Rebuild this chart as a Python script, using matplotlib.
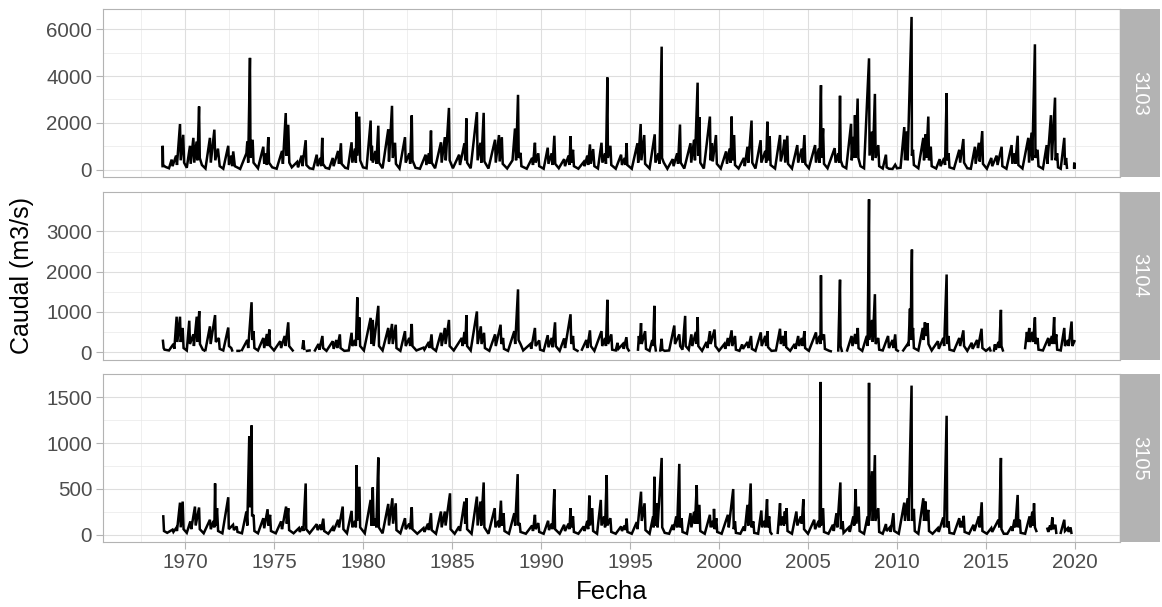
import matplotlib
matplotlib.use("Agg")
import matplotlib.pyplot as plt
import numpy as np

nan = float("nan")

estaciones = ["3103", "3104", "3105"]

# (fecha en años decimales, caudal m3/s)
pts_3103 = [
    (1968.74, 150), (1968.75, 1020), (1968.77, 200), (1968.9, 120), (1969.1, 60), (1969.25, 430),
    (1969.3, 150), (1969.5, 600), (1969.55, 200), (1969.72, 1950), (1969.76, 400), (1969.9, 1490),
    (1969.95, 300), (1970.1, 80), (1970.28, 1020), (1970.32, 250), (1970.47, 1360), (1970.52, 300),
    (1970.65, 1200), (1970.7, 400), (1970.79, 2700), (1970.83, 500), (1970.95, 200), (1971.15, 50),
    (1971.4, 1360), (1971.45, 300), (1971.65, 1710), (1971.7, 400), (1971.85, 900), (1971.95, 150),
    (1972.15, 40), (1972.43, 1020), (1972.47, 200), (1972.6, 600), (1972.65, 150), (1972.71, 780),
    (1972.8, 150), (1973.1, 30), (1973.45, 700), (1973.5, 1200), (1973.55, 300), (1973.65, 4780),
    (1973.68, 500), (1973.8, 1280), (1973.85, 300), (1974.1, 60), (1974.4, 980), (1974.45, 250),
    (1974.55, 700), (1974.6, 200), (1974.68, 1390), (1974.72, 300), (1974.9, 100), (1975.15, 40),
    (1975.45, 800), (1975.5, 250), (1975.66, 2420), (1975.7, 600), (1975.8, 1920), (1975.86, 300),
    (1976.0, 100), (1976.3, 330), (1976.35, 100), (1976.55, 600), (1976.6, 150), (1976.78, 1260),
    (1976.82, 200), (1977.0, 60), (1977.2, 30), (1977.4, 640), (1977.45, 150), (1977.6, 500),
    (1977.65, 150), (1977.71, 1360), (1977.75, 250), (1977.9, 80), (1978.1, 40), (1978.3, 500),
    (1978.35, 150), (1978.6, 800), (1978.65, 250), (1978.76, 1130), (1978.8, 250), (1979.0, 80),
    (1979.15, 50), (1979.36, 1170), (1979.4, 300), (1979.55, 900), (1979.6, 300), (1979.64, 2470),
    (1979.68, 600), (1979.79, 2270), (1979.84, 400), (1980.0, 100), (1980.2, 60), (1980.43, 2100),
    (1980.46, 400), (1980.5, 1020), (1980.55, 300), (1980.7, 800), (1980.75, 250), (1980.86, 1880),
    (1980.9, 300), (1981.1, 60), (1981.42, 1730), (1981.46, 350), (1981.63, 2730), (1981.67, 500),
    (1981.8, 1150), (1981.85, 250), (1982.05, 50), (1982.36, 1390), (1982.4, 300), (1982.6, 700),
    (1982.65, 250), (1982.74, 2320), (1982.78, 400), (1982.95, 80), (1983.2, 40), (1983.52, 640),
    (1983.56, 200), (1983.7, 700), (1983.75, 250), (1983.82, 1670), (1983.86, 300), (1984.05, 60),
    (1984.38, 1170), (1984.42, 300), (1984.6, 1390), (1984.65, 400), (1984.83, 2640), (1984.87, 400),
    (1985.05, 60), (1985.4, 640), (1985.45, 200), (1985.7, 1130), (1985.75, 400), (1985.81, 2190),
    (1985.85, 300), (1986.05, 60), (1986.4, 2460), (1986.44, 400), (1986.6, 1150), (1986.65, 300),
    (1986.78, 2430), (1986.82, 350), (1987.05, 50), (1987.42, 1280), (1987.46, 300), (1987.64, 1480),
    (1987.68, 350), (1987.8, 1390), (1987.85, 250), (1988.1, 50), (1988.4, 400), (1988.54, 1760),
    (1988.6, 400), (1988.71, 3200), (1988.75, 500), (1988.85, 720), (1988.9, 150), (1989.2, 40),
    (1989.5, 500), (1989.55, 200), (1989.66, 1150), (1989.7, 300), (1989.85, 700), (1989.9, 150),
    (1990.15, 40), (1990.38, 940), (1990.42, 250), (1990.6, 700), (1990.65, 200), (1990.75, 1450),
    (1990.8, 250), (1991.0, 60), (1991.3, 450), (1991.35, 150), (1991.55, 600), (1991.6, 200),
    (1991.66, 1430), (1991.7, 300), (1991.8, 850), (1991.85, 150), (1992.1, 40), (1992.4, 330),
    (1992.45, 150), (1992.6, 600), (1992.65, 200), (1992.75, 1080), (1992.8, 250), (1992.93, 880),
    (1993.0, 150), (1993.2, 50), (1993.4, 1150), (1993.45, 300), (1993.6, 700), (1993.65, 250),
    (1993.73, 3940), (1993.76, 500), (1993.9, 1020), (1993.95, 200), (1994.2, 40), (1994.5, 640),
    (1994.55, 200), (1994.7, 500), (1994.75, 200), (1994.81, 1130), (1994.85, 200), (1995.1, 40),
    (1995.42, 1130), (1995.46, 300), (1995.6, 1950), (1995.64, 400), (1995.8, 1480), (1995.85, 250),
    (1996.1, 50), (1996.39, 1510), (1996.43, 300), (1996.6, 700), (1996.65, 250), (1996.78, 5260),
    (1996.8, 500), (1996.9, 300), (1997.1, 40), (1997.4, 450), (1997.45, 150), (1997.65, 700),
    (1997.7, 250), (1997.81, 1930), (1997.85, 300), (1998.05, 50), (1998.4, 1130), (1998.44, 300),
    (1998.6, 1280), (1998.65, 400), (1998.8, 3720), (1998.83, 600), (1998.9, 2250), (1998.95, 300),
    (1999.15, 50), (1999.49, 2270), (1999.53, 400), (1999.6, 1130), (1999.65, 350), (1999.83, 1480),
    (1999.88, 250), (2000.1, 50), (2000.4, 780), (2000.45, 250), (2000.6, 900), (2000.65, 300),
    (2000.71, 2270), (2000.75, 400), (2000.85, 1480), (2000.9, 200), (2001.1, 50), (2001.4, 500),
    (2001.45, 150), (2001.6, 980), (2001.65, 300), (2001.83, 2100), (2001.87, 300), (2002.05, 50),
    (2002.34, 1260), (2002.38, 300), (2002.6, 800), (2002.65, 300), (2002.72, 2050), (2002.76, 400),
    (2002.85, 1430), (2002.9, 200), (2003.15, 50), (2003.43, 1480), (2003.47, 350), (2003.6, 800),
    (2003.68, 1280), (2003.72, 300), (2003.84, 1450), (2003.88, 250), (2004.1, 50), (2004.4, 1050),
    (2004.45, 300), (2004.65, 900), (2004.7, 300), (2004.8, 1480), (2004.85, 250), (2005.05, 60),
    (2005.4, 1050), (2005.45, 300), (2005.6, 900), (2005.65, 300), (2005.73, 3610), (2005.76, 500),
    (2005.85, 1760), (2005.9, 250), (2006.1, 60), (2006.5, 920), (2006.55, 300), (2006.7, 700),
    (2006.75, 300), (2006.8, 3160), (2006.84, 400), (2006.95, 150), (2007.15, 60), (2007.42, 1960),
    (2007.46, 400), (2007.55, 1400), (2007.6, 500), (2007.64, 2330), (2007.68, 500), (2007.79, 3040),
    (2007.83, 500), (2007.95, 150), (2008.15, 60), (2008.43, 4760), (2008.46, 600), (2008.6, 1630),
    (2008.64, 400), (2008.76, 3240), (2008.8, 500), (2008.95, 1050), (2009.0, 150), (2009.2, 50),
    (2009.38, 640), (2009.42, 100), (2009.55, 40), (2009.75, 30), (2009.9, 210), (2010.0, 60),
    (2010.2, 80), (2010.41, 1820), (2010.45, 400), (2010.56, 1640), (2010.6, 400), (2010.82, 6530),
    (2010.84, 600), (2010.9, 850), (2010.95, 200), (2011.2, 60), (2011.48, 1360), (2011.52, 400),
    (2011.61, 1510), (2011.65, 500), (2011.76, 2270), (2011.8, 400), (2011.9, 980), (2011.95, 150),
    (2012.2, 50), (2012.4, 450), (2012.45, 150), (2012.65, 500), (2012.7, 200), (2012.79, 3270),
    (2012.82, 400), (2012.9, 700), (2012.95, 100), (2013.2, 40), (2013.5, 850), (2013.55, 300),
    (2013.73, 1310), (2013.77, 300), (2013.95, 60), (2014.15, 40), (2014.38, 980), (2014.42, 250),
    (2014.6, 1150), (2014.65, 350), (2014.79, 1650), (2014.83, 250), (2015.05, 40), (2015.3, 500),
    (2015.35, 150), (2015.6, 600), (2015.65, 200), (2015.88, 980), (2015.92, 150), (2016.15, 40),
    (2016.44, 1050), (2016.48, 250), (2016.6, 700), (2016.65, 250), (2016.78, 1450), (2016.82, 200),
    (2017.05, 50), (2017.38, 1360), (2017.42, 300), (2017.56, 1580), (2017.6, 400), (2017.75, 5360),
    (2017.78, 500), (2017.9, 850), (2017.95, 150), (2018.2, 40), (2018.41, 1050), (2018.45, 250),
    (2018.65, 2330), (2018.7, 400), (2018.88, 3080), (2018.91, 400), (2019.0, 700), (2019.05, 100),
    (2019.2, 40), (2019.4, 1360), (2019.44, 200), (2019.5, 500), (2019.55, 80), (2019.7, nan),
    (2019.95, 100), (2019.96, 300), (2019.97, 80),
]

pts_3104 = [
    (1968.76, 280), (1968.8, 100), (1968.85, 60), (1969.1, 40), (1969.35, 200), (1969.4, 80),
    (1969.53, 880), (1969.57, 250), (1969.72, 880), (1969.76, 250), (1969.87, 600), (1969.92, 100),
    (1970.1, 40), (1970.24, 780), (1970.28, 200), (1970.47, 440), (1970.5, 150), (1970.66, 880),
    (1970.7, 250), (1970.8, 1020), (1970.84, 200), (1971.0, 60), (1971.08, 40), (1971.1, nan),
    (1971.15, 50), (1971.4, 640), (1971.44, 200), (1971.69, 920), (1971.73, 250), (1971.9, 350),
    (1971.95, 80), (1972.15, 40), (1972.43, 610), (1972.47, 150), (1972.6, 100), (1972.65, 40),
    (1972.8, nan), (1972.95, 30), (1973.05, 30), (1973.1, nan), (1973.2, 50), (1973.5, 300),
    (1973.55, 100), (1973.74, 1240), (1973.78, 300), (1973.85, 520), (1973.9, 100), (1974.1, 40),
    (1974.4, 350), (1974.45, 100), (1974.6, 450), (1974.65, 150), (1974.74, 560), (1974.78, 150),
    (1975.0, 40), (1975.35, 270), (1975.4, 100), (1975.6, 400), (1975.65, 150), (1975.8, 740),
    (1975.85, 150), (1976.05, 40), (1976.3, nan), (1976.6, 100), (1976.65, 290), (1976.7, 80),
    (1976.75, nan), (1976.85, 30), (1977.0, 40), (1977.1, nan), (1977.3, 40), (1977.5, 200),
    (1977.55, 60), (1977.72, 400), (1977.76, 100), (1977.95, 30), (1978.3, 270), (1978.35, 80),
    (1978.5, 300), (1978.55, 100), (1978.7, 440), (1978.74, 100), (1978.95, 30), (1979.2, 40),
    (1979.36, 480), (1979.4, 150), (1979.55, 300), (1979.6, 150), (1979.68, 1360), (1979.72, 300),
    (1979.8, 860), (1979.84, 150), (1980.05, 40), (1980.43, 850), (1980.47, 200), (1980.55, 800),
    (1980.6, 150), (1980.86, 1150), (1980.9, 150), (1981.1, 40), (1981.42, 600), (1981.46, 200),
    (1981.63, 700), (1981.67, 200), (1981.84, 680), (1981.88, 100), (1982.1, 30), (1982.36, 520),
    (1982.4, 150), (1982.6, 350), (1982.65, 150), (1982.74, 700), (1982.78, 150), (1983.0, 40),
    (1983.4, 110), (1983.45, 60), (1983.7, 250), (1983.75, 100), (1983.85, 440), (1983.9, 100),
    (1984.1, 30), (1984.38, 480), (1984.42, 150), (1984.6, 600), (1984.64, 200), (1984.83, 800),
    (1984.87, 150), (1985.1, 40), (1985.55, 350), (1985.6, 150), (1985.7, 500), (1985.75, 200),
    (1985.81, 920), (1985.85, 150), (1986.05, 40), (1986.4, 1010), (1986.44, 200), (1986.62, 640),
    (1986.66, 200), (1986.8, 480), (1986.85, 100), (1987.1, 30), (1987.42, 440), (1987.46, 150),
    (1987.73, 680), (1987.77, 200), (1987.87, 350), (1987.92, 80), (1988.15, 30), (1988.5, 520),
    (1988.55, 200), (1988.71, 1560), (1988.74, 300), (1988.85, 200), (1989.0, 40), (1989.4, 200),
    (1989.45, 80), (1989.66, 600), (1989.7, 150), (1989.9, 290), (1989.95, 60), (1990.15, 30),
    (1990.38, 420), (1990.42, 120), (1990.6, 350), (1990.65, 120), (1990.79, 740), (1990.83, 150),
    (1991.05, 30), (1991.3, 340), (1991.35, 100), (1991.66, 940), (1991.7, 200), (1991.8, 400),
    (1991.85, 80), (1992.05, 30), (1992.15, nan), (1992.3, 60), (1992.55, 300), (1992.6, 100),
    (1992.75, 540), (1992.8, 150), (1993.0, 30), (1993.4, 520), (1993.44, 150), (1993.6, 350),
    (1993.65, 150), (1993.73, 1300), (1993.77, 200), (1993.95, 440), (1994.0, 60), (1994.2, 40),
    (1994.3, 230), (1994.35, 80), (1994.6, 200), (1994.65, 80), (1994.8, 370), (1994.85, 100),
    (1994.93, 40), (1995.2, nan), (1995.45, 60), (1995.5, 400), (1995.55, 200), (1995.62, 720),
    (1995.66, 200), (1995.85, 520), (1995.9, 80), (1996.1, 30), (1996.25, 300), (1996.3, 150),
    (1996.37, 1150), (1996.4, 200), (1996.45, 40), (1996.6, nan), (1996.7, 40), (1996.78, 330),
    (1996.82, 60), (1996.95, 30), (1997.2, 40), (1997.49, 660), (1997.53, 200), (1997.77, 440),
    (1997.82, 150), (1997.95, 60), (1998.1, 900), (1998.13, 150), (1998.3, 60), (1998.45, 440),
    (1998.5, 150), (1998.7, 500), (1998.75, 200), (1998.8, 870), (1998.84, 150), (1999.05, 30),
    (1999.3, 250), (1999.35, 100), (1999.49, 520), (1999.53, 200), (1999.75, 560), (1999.8, 150),
    (2000.0, 30), (2000.3, 200), (2000.35, 80), (2000.5, 350), (2000.55, 150), (2000.71, 540),
    (2000.75, 150), (2000.9, 400), (2000.95, 60), (2001.15, 30), (2001.3, 190), (2001.35, 80),
    (2001.6, 250), (2001.65, 100), (2001.8, 400), (2001.85, 80), (2002.05, 30), (2002.35, 490),
    (2002.4, 150), (2002.6, 400), (2002.65, 150), (2002.72, 520), (2002.76, 120), (2002.95, 30),
    (2003.2, 40), (2003.43, 580), (2003.47, 200), (2003.6, 400), (2003.65, 150), (2003.74, 520),
    (2003.78, 120), (2004.0, 30), (2004.25, 200), (2004.3, 80), (2004.45, 400), (2004.5, 150),
    (2004.65, 350), (2004.7, 150), (2004.8, 520), (2004.84, 100), (2005.05, 30), (2005.45, 490),
    (2005.5, 200), (2005.65, 400), (2005.7, 200), (2005.73, 1910), (2005.76, 300), (2005.9, 440),
    (2005.95, 80), (2006.2, 30), (2006.28, 20), (2006.5, nan), (2006.7, 40), (2006.8, 1800),
    (2006.83, 150), (2006.9, 30), (2007.0, nan), (2007.2, 40), (2007.45, 400), (2007.5, 150),
    (2007.65, 450), (2007.7, 200), (2007.8, 600), (2007.84, 100), (2008.05, 30), (2008.3, 400),
    (2008.35, 150), (2008.43, 3800), (2008.45, 300), (2008.6, 800), (2008.64, 250), (2008.76, 1440),
    (2008.8, 200), (2008.95, 350), (2009.0, 60), (2009.2, 40), (2009.5, 400), (2009.55, 100),
    (2009.75, 300), (2009.8, 100), (2009.9, 440), (2009.95, 60), (2010.05, 30), (2010.2, nan),
    (2010.35, 40), (2010.6, 200), (2010.65, 150), (2010.73, 1080), (2010.76, 300), (2010.84, 2550),
    (2010.86, 300), (2010.9, 600), (2010.95, 100), (2011.2, 40), (2011.45, 600), (2011.5, 300),
    (2011.57, 740), (2011.62, 400), (2011.72, 720), (2011.77, 200), (2011.95, 40), (2012.3, 270),
    (2012.35, 80), (2012.6, 350), (2012.65, 150), (2012.79, 1930), (2012.82, 200), (2012.9, 400),
    (2012.95, 60), (2013.2, 30), (2013.5, 350), (2013.55, 150), (2013.73, 540), (2013.77, 150),
    (2013.95, 30), (2014.2, 230), (2014.25, 80), (2014.5, 300), (2014.55, 100), (2014.75, 580),
    (2014.8, 100), (2015.0, 30), (2015.2, 100), (2015.25, 40), (2015.35, nan), (2015.45, 40),
    (2015.5, 190), (2015.55, 60), (2015.7, 250), (2015.75, 100), (2015.84, 1050), (2015.87, 150),
    (2015.95, 40), (2016.5, nan), (2017.2, 100), (2017.3, 500), (2017.35, 250), (2017.43, 600),
    (2017.47, 250), (2017.6, 500), (2017.65, 250), (2017.75, 860), (2017.79, 200), (2017.9, 350),
    (2017.95, 60), (2018.2, 40), (2018.5, 350), (2018.55, 150), (2018.7, 400), (2018.75, 200),
    (2018.83, 870), (2018.87, 200), (2018.95, 440), (2019.0, 60), (2019.2, 40), (2019.4, 600),
    (2019.44, 150), (2019.6, 300), (2019.65, 150), (2019.81, 760), (2019.85, 150), (2019.97, 270),
]

pts_3105 = [
    (1968.78, 200), (1968.82, 40), (1969.0, 20), (1969.3, 55), (1969.35, 30), (1969.5, 72),
    (1969.55, 40), (1969.72, 350), (1969.76, 80), (1969.87, 362), (1969.92, 60), (1970.1, 20),
    (1970.3, 145), (1970.35, 60), (1970.56, 307), (1970.6, 100), (1970.79, 297), (1970.83, 60),
    (1971.05, 15), (1971.4, 163), (1971.45, 60), (1971.6, 150), (1971.65, 80), (1971.69, 560),
    (1971.73, 100), (1971.8, 290), (1971.86, 40), (1972.1, 15), (1972.43, 409), (1972.46, 60),
    (1972.7, 108), (1972.75, 50), (1972.9, 90), (1972.95, 30), (1973.2, 15), (1973.45, 253),
    (1973.5, 100), (1973.61, 1078), (1973.65, 300), (1973.74, 1194), (1973.77, 200), (1973.85, 217),
    (1973.9, 40), (1974.1, 15), (1974.4, 180), (1974.45, 70), (1974.64, 278), (1974.68, 100),
    (1974.78, 217), (1974.83, 40), (1975.1, 15), (1975.4, 145), (1975.45, 60), (1975.68, 307),
    (1975.72, 120), (1975.8, 290), (1975.85, 50), (1976.1, 15), (1976.4, 72), (1976.45, 30),
    (1976.6, 90), (1976.65, 40), (1976.78, 560), (1976.81, 60), (1977.0, 15), (1977.4, 115),
    (1977.45, 50), (1977.6, 110), (1977.65, 50), (1977.77, 175), (1977.82, 40), (1978.05, 10),
    (1978.3, 80), (1978.35, 40), (1978.6, 163), (1978.65, 80), (1978.86, 307), (1978.9, 60),
    (1979.1, 15), (1979.36, 260), (1979.4, 80), (1979.55, 150), (1979.6, 80), (1979.64, 760),
    (1979.68, 150), (1979.8, 524), (1979.84, 80), (1980.1, 15), (1980.43, 380), (1980.47, 100),
    (1980.55, 517), (1980.6, 100), (1980.7, 175), (1980.75, 80), (1980.86, 843), (1980.89, 80),
    (1981.1, 15), (1981.42, 336), (1981.46, 100), (1981.65, 398), (1981.69, 120), (1981.84, 343),
    (1981.88, 50), (1982.1, 15), (1982.36, 180), (1982.4, 60), (1982.6, 120), (1982.65, 60),
    (1982.74, 300), (1982.78, 60), (1983.05, 10), (1983.4, 72), (1983.45, 30), (1983.65, 120),
    (1983.7, 50), (1983.82, 235), (1983.86, 50), (1984.1, 10), (1984.38, 253), (1984.42, 80),
    (1984.6, 253), (1984.64, 100), (1984.89, 452), (1984.92, 60), (1985.15, 10), (1985.4, 90),
    (1985.45, 40), (1985.7, 362), (1985.74, 120), (1985.81, 398), (1985.85, 60), (1986.1, 10),
    (1986.4, 416), (1986.44, 100), (1986.6, 362), (1986.64, 100), (1986.78, 571), (1986.82, 80),
    (1987.05, 10), (1987.4, 290), (1987.44, 80), (1987.6, 150), (1987.65, 80), (1987.75, 372),
    (1987.8, 100), (1987.9, 235), (1987.95, 40), (1988.2, 10), (1988.5, 235), (1988.55, 100),
    (1988.69, 662), (1988.72, 100), (1988.8, 127), (1988.85, 30), (1989.15, 10), (1989.5, 100),
    (1989.55, 40), (1989.66, 217), (1989.7, 60), (1989.85, 127), (1989.9, 30), (1990.15, 10),
    (1990.4, 152), (1990.45, 50), (1990.6, 120), (1990.65, 60), (1990.75, 495), (1990.79, 60),
    (1991.05, 10), (1991.3, 108), (1991.35, 40), (1991.55, 120), (1991.6, 60), (1991.66, 290),
    (1991.7, 80), (1991.8, 200), (1991.85, 30), (1992.1, 10), (1992.4, 90), (1992.45, 40),
    (1992.6, 150), (1992.65, 60), (1992.72, 427), (1992.76, 100), (1992.88, 290), (1992.93, 40),
    (1993.15, 10), (1993.36, 380), (1993.4, 100), (1993.55, 200), (1993.6, 80), (1993.69, 651),
    (1993.73, 100), (1993.9, 180), (1993.95, 30), (1994.2, 10), (1994.5, 90), (1994.55, 40),
    (1994.7, 100), (1994.75, 50), (1994.81, 175), (1994.86, 30), (1995.1, 10), (1995.38, 137),
    (1995.42, 60), (1995.62, 470), (1995.66, 150), (1995.82, 343), (1995.87, 50), (1996.1, 10),
    (1996.3, 200), (1996.33, 80), (1996.37, 633), (1996.41, 100), (1996.5, 343), (1996.55, 80),
    (1996.78, 839), (1996.81, 80), (1996.95, 20), (1997.2, 10), (1997.4, 108), (1997.45, 50),
    (1997.6, 200), (1997.65, 80), (1997.77, 774), (1997.8, 80), (1997.9, 180), (1997.95, 30),
    (1998.2, 10), (1998.4, 235), (1998.45, 80), (1998.6, 250), (1998.65, 120), (1998.75, 542),
    (1998.79, 120), (1998.9, 326), (1998.95, 40), (1999.2, 10), (1999.49, 217), (1999.53, 80),
    (1999.65, 150), (1999.7, 80), (1999.72, 282), (1999.76, 60), (1999.85, 180), (1999.9, 30),
    (2000.15, 10), (2000.5, 217), (2000.55, 80), (2000.8, 499), (2000.83, 60), (2000.9, 145),
    (2000.95, 20), (2001.2, 10), (2001.4, 90), (2001.45, 40), (2001.6, 326), (2001.65, 100),
    (2001.78, 560), (2001.82, 80), (2001.93, 145), (2001.98, 20), (2002.2, 10), (2002.38, 264),
    (2002.42, 80), (2002.55, 150), (2002.6, 80), (2002.7, 387), (2002.74, 80), (2002.82, 200),
    (2002.88, 30), (2002.95, 10), (2003.1, nan), (2003.3, 20), (2003.43, 343), (2003.47, 100),
    (2003.6, 200), (2003.65, 100), (2003.7, 253), (2003.74, 120), (2003.8, 290), (2003.85, 40),
    (2004.1, 10), (2004.35, 253), (2004.4, 100), (2004.6, 200), (2004.65, 120), (2004.74, 387),
    (2004.78, 60), (2005.0, 10), (2005.35, 163), (2005.4, 60), (2005.6, 150), (2005.65, 80),
    (2005.71, 1670), (2005.73, 100), (2005.85, 290), (2005.9, 30), (2006.15, 10), (2006.4, 108),
    (2006.45, 40), (2006.6, 235), (2006.65, 80), (2006.82, 571), (2006.85, 60), (2006.95, 145),
    (2007.0, 20), (2007.3, 80), (2007.35, 30), (2007.55, 200), (2007.6, 100), (2007.68, 499),
    (2007.72, 120), (2007.85, 307), (2007.9, 40), (2008.15, 10), (2008.35, 200), (2008.4, 100),
    (2008.43, 1660), (2008.45, 150), (2008.6, 694), (2008.64, 150), (2008.76, 870), (2008.79, 150),
    (2008.95, 290), (2009.0, 30), (2009.2, 10), (2009.38, 116), (2009.42, 40), (2009.6, 80),
    (2009.65, 30), (2009.8, 235), (2009.85, 40), (2010.1, 10), (2010.41, 350), (2010.45, 150),
    (2010.6, 398), (2010.65, 150), (2010.82, 1630), (2010.84, 150), (2010.95, 282), (2011.0, 40),
    (2011.2, 10), (2011.48, 398), (2011.52, 150), (2011.6, 362), (2011.65, 150), (2011.76, 271),
    (2011.8, 40), (2012.0, 10), (2012.3, 72), (2012.35, 30), (2012.6, 188), (2012.65, 80),
    (2012.79, 1300), (2012.82, 80), (2012.9, 145), (2012.95, 20), (2013.2, 10), (2013.5, 180),
    (2013.55, 80), (2013.65, 150), (2013.7, 80), (2013.75, 206), (2013.8, 30), (2014.05, 10),
    (2014.3, 108), (2014.35, 40), (2014.6, 200), (2014.65, 80), (2014.76, 354), (2014.8, 40),
    (2015.05, 10), (2015.3, 72), (2015.35, 30), (2015.7, 163), (2015.75, 80), (2015.84, 839),
    (2015.87, 60), (2016.0, 10), (2016.2, 10), (2016.44, 90), (2016.48, 40), (2016.6, 163),
    (2016.65, 80), (2016.78, 434), (2016.82, 80), (2016.9, 163), (2016.95, 20), (2017.2, 10),
    (2017.45, 200), (2017.5, 80), (2017.6, 250), (2017.65, 100), (2017.7, 343), (2017.75, 80),
    (2017.83, 40), (2018.1, nan), (2018.45, 65), (2018.5, 30), (2018.6, 100), (2018.65, 50),
    (2018.73, 188), (2018.77, 60), (2018.9, 108), (2018.95, 20), (2019.1, nan), (2019.2, 20),
    (2019.4, 163), (2019.44, 40), (2019.6, 72), (2019.65, 30), (2019.75, 80), (2019.8, 20),
    (2019.9, nan), (2019.97, 7),
]

yticks_3103 = [0, 2000, 4000, 6000]
yticks_3104 = [0, 1000, 2000, 3000]
yticks_3105 = [0, 500, 1000, 1500]
xticks = [1970, 1975, 1980, 1985, 1990, 1995, 2000, 2005, 2010, 2015, 2020]

series = {"3103": pts_3103, "3104": pts_3104, "3105": pts_3105}
yticks = {"3103": yticks_3103, "3104": yticks_3104, "3105": yticks_3105}

plt.rcParams['font.family'] = ['Liberation Sans', 'DejaVu Sans']

W, H = 1162, 607
fig = plt.figure(figsize=(W / 100, H / 100), dpi=100)
left, right = 103.3, 1120
tops = [9.3, 191.7, 374.3]
ph = 168

gris = '#B3B3B3'
for i, est in enumerate(estaciones):
    bottom = 1 - (tops[i] + ph) / H
    ax = fig.add_axes([left / W, bottom, (right - left) / W, ph / H])
    t = np.array([p[0] for p in series[est]])
    q = np.array([p[1] for p in series[est]], dtype=float)
    ax.plot(t, q, color='black', lw=1.8, solid_joinstyle='miter')
    ymax = np.nanmax(q)
    ax.set_ylim(-0.05 * ymax, 1.05 * ymax)
    ax.set_xlim(1965.41, 2022.53)

    yt = yticks[est]
    ax.set_yticks(yt)
    ax.set_yticks([(a + b) / 2 for a, b in zip(yt[:-1], yt[1:])], minor=True)
    ax.set_xticks(xticks)
    ax.set_xticks([x - 2.5 for x in xticks] + [xticks[-1] + 2.5], minor=True)
    ax.grid(which='major', color='#DEDEDE', lw=0.8)
    ax.grid(which='minor', color='#E6E6E6', lw=0.45)
    ax.set_axisbelow(True)
    ax.tick_params(which='minor', length=0)
    ax.tick_params(axis='y', which='major', length=5, width=0.8, color=gris,
                   labelcolor='#4D4D4D', labelsize=14.8, pad=3)
    if i == 2:
        ax.tick_params(axis='x', which='major', length=5, width=0.8, color=gris,
                       labelcolor='#4D4D4D', labelsize=14.8, pad=3)
    else:
        ax.tick_params(axis='x', which='major', length=0, labelbottom=False)
    for s in ax.spines.values():
        s.set_color(gris)
        s.set_linewidth(0.8)

    sax = fig.add_axes([right / W, bottom, 40 / W, ph / H])
    sax.set_facecolor(gris)
    sax.set_xticks([])
    sax.set_yticks([])
    for s in sax.spines.values():
        s.set_visible(False)
    sax.text(0.5, 0.5, est, rotation=-90, color='white', fontsize=14.5,
             family=['Liberation Sans', 'DejaVu Sans'],
             ha='center', va='center', transform=sax.transAxes)

fig.text((left + right) / 2 / W, 1 - 592 / H, 'Fecha', fontsize=18.5,
         ha='center', va='center')
fig.text(22 / W, 1 - 276 / H, 'Caudal (m3/s)', fontsize=18, rotation=90,
         ha='center', va='center')

plt.savefig('out.png', dpi=100)
